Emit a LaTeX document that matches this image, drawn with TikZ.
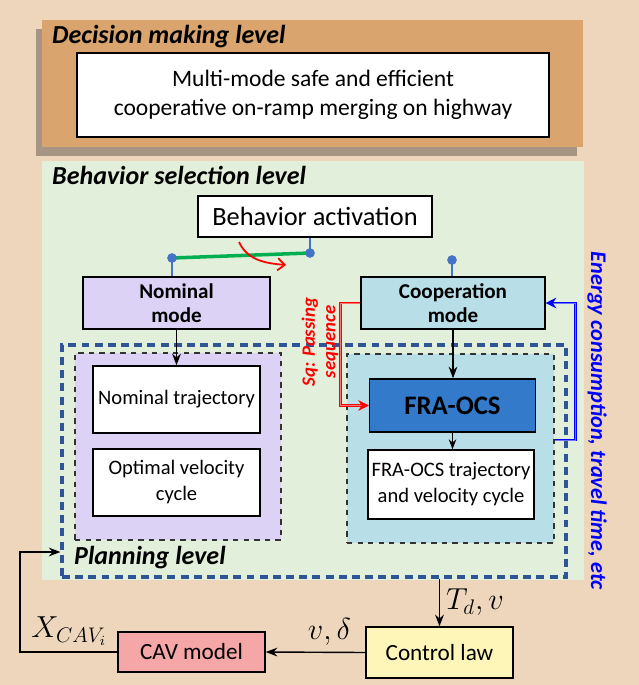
\documentclass[tikz,border=0pt]{standalone}
\usepackage{fontspec}
\setmainfont{Carlito}
\usetikzlibrary{arrows.meta,shadows}
\definecolor{bgtan}{RGB}{238,214,188}
\definecolor{decor}{RGB}{217,164,110}
\definecolor{selgreen}{RGB}{226,239,218}
\definecolor{nompurple}{RGB}{220,210,246}
\definecolor{coopblue}{RGB}{184,222,232}
\definecolor{frablue}{RGB}{52,122,202}
\definecolor{planblue}{RGB}{47,85,151}
\definecolor{pinblue}{RGB}{68,114,196}
\definecolor{swgreen}{RGB}{0,176,80}
\definecolor{cavpink}{RGB}{245,166,166}
\definecolor{ctrlyellow}{RGB}{253,246,184}
\begin{document}
\begin{tikzpicture}[>=Stealth,
    box/.style={draw, line width=0.8pt, align=center, inner sep=2pt},
    lvl/.style={anchor=west, font=\fontsize{14.8}{17}\selectfont\bfseries\itshape},
    dashbox/.style={draw=black!80, dashed, line width=0.7pt},
    dot/.style={circle, fill=pinblue, inner sep=0pt, minimum size=5.5pt},
    pin/.style={draw=pinblue, line width=1.5pt},
    flow/.style={->, line width=0.8pt}]
  \useasboundingbox (0,0) rectangle (12.78,-13.7);
  \fill[bgtan] (0,0) rectangle (12.78,-13.7);
  \path[fill=decor, drop shadow={shadow xshift=-0.12cm, shadow yshift=-0.18cm, fill=black, opacity=0.3}]
       (0.84,-0.4) rectangle (11.66,-2.94);
  \node[lvl] (dml) at (0.92,-0.74) {Decision making level};
  \node[box, fill=white, line width=1pt, minimum width=9.44cm, minimum height=1.68cm,
        font=\fontsize{13.4}{16.5}\selectfont] (goal) at (6.26,-1.9)
        {Multi-mode safe and efficient\\cooperative on-ramp merging on highway};
  \fill[selgreen] (0.84,-3.22) rectangle (11.68,-11.6);
  \node[lvl] (bsl) at (0.92,-3.5) {Behavior selection level};
  \node[box, fill=white, minimum width=4.68cm, minimum height=0.82cm,
        font=\fontsize{15}{17}\selectfont] (act) at (6.3,-4.33) {Behavior activation};
  \node[box, fill=nompurple, minimum width=3.74cm, minimum height=1.04cm,
        font=\fontsize{12}{13.7}\selectfont\bfseries] (nom) at (3.53,-6.06) {Nominal\\mode};
  \node[box, fill=coopblue, minimum width=3.68cm, minimum height=1.04cm,
        font=\fontsize{12}{13.7}\selectfont\bfseries] (coop) at (9.06,-6.06) {Cooperation\\mode};
  \node[draw=planblue, line width=1.8pt, dash pattern=on 4.5pt off 3pt,
        minimum width=10.08cm, minimum height=4.64cm] (plan) at (6.28,-9.22) {};
  \node[dashbox, fill=nompurple, minimum width=4.12cm, minimum height=3.74cm] (lbox) at (3.56,-8.93) {};
  \node[dashbox, fill=coopblue, minimum width=4.14cm, minimum height=3.78cm] (rbox) at (9.01,-8.97) {};
  \node[lvl] (pll) at (1.36,-11.16) {Planning level};
  \node[box, fill=white, minimum width=3.34cm, minimum height=1.34cm,
        font=\fontsize{11.7}{14.8}\selectfont] (ntraj) at (3.53,-7.99) {Nominal trajectory};
  \node[box, fill=white, minimum width=3.34cm, minimum height=1.34cm,
        font=\fontsize{11.7}{14.8}\selectfont] (optv) at (3.53,-9.65) {Optimal velocity\\cycle};
  \node[box, fill=frablue, minimum width=3.32cm, minimum height=1.06cm,
        font=\fontsize{15.2}{17}\selectfont\bfseries] (fra) at (9.05,-8.11) {FRA-OCS};
  \node[box, fill=white, minimum width=3.32cm, minimum height=1.38cm,
        font=\fontsize{11.7}{14.8}\selectfont] (ftraj) at (9.02,-9.69) {FRA-OCS trajectory\\and velocity cycle};
  \coordinate (swr) at (6.2,-5.06);
  \coordinate (swl) at (3.44,-5.16);
  \coordinate (swc) at (9.04,-5.2);
  \draw[pin] (act.south -| swr) -- (swr);
  \draw[pin] (swl) -- (swl |- nom.north);
  \draw[pin] (swc) -- (swc |- coop.north);
  \draw[draw=swgreen, line width=2pt] (swl) -- (swr);
  \node[dot] (dr) at (swr) {};
  \node[dot] (dl) at (swl) {};
  \node[dot] (dc) at (swc) {};
  \coordinate (rs) at (4.78,-4.84);
  \coordinate (re) at (5.72,-5.3);
  \draw[red, line width=1pt, -{Straight Barb[length=4pt,width=7pt]}] (rs) to[out=-65, in=175] (re);
  \draw[flow] (nom.south) -- (ntraj.north);
  \draw[flow] (coop.south) -- (coop.south |- fra.north);
  \draw[->, line width=0.6pt] (fra.south) -- (fra.south |- ftraj.north);
  \draw[red, line width=0.5pt, double=red!55, double distance=0.5pt, -{Stealth[red, length=6pt, width=6pt]}]
        (coop.west) -- ++(-0.4,0) |- (fra.west);
  \draw[blue, line width=0.5pt, double=blue!55, double distance=0.5pt, -{Stealth[blue, length=6pt, width=6pt]}]
        ([yshift=0.17cm]rbox.east) -- ++(0.42,0) |- (coop.east);
  \node[rotate=90, text=red, align=center, font=\fontsize{10.7}{11.6}\selectfont\bfseries\itshape]
        (sq) at (6.4,-6.84) {Sq: Passing\\sequence};
  \node[rotate=-90, text=blue, font=\fontsize{12.7}{14}\selectfont\bfseries\itshape]
        (energy) at (11.94,-8.42) {Energy consumption, travel time, etc};
  \node[box, fill=cavpink, minimum width=2.94cm, minimum height=0.8cm,
        font=\fontsize{13.2}{15}\selectfont] (cav) at (3.83,-13.04) {CAV model};
  \node[box, fill=ctrlyellow, minimum width=2.94cm, minimum height=1.02cm,
        font=\fontsize{13.2}{15}\selectfont] (ctrl) at (8.79,-13.05) {Control law};
  \draw[flow] (plan.south -| ctrl.north) -- (ctrl.north)
        node (tdv) [pos=.5, right, font=\fontsize{16.5}{18}\selectfont] {$T_d, v$};
  \draw[flow] (ctrl.west) -- (cav.east)
        node (vdel) [pos=.36, above, font=\fontsize{16.5}{18}\selectfont] {$v, \delta$};
  \coordinate (fb) at (0.4,-11.04);
  \draw[flow] (cav.west) -| (fb) -- (fb -| plan.west);
  \node[font=\fontsize{16.5}{18}\selectfont] (xcav) at (1.38,-12.62) {$X_{CAV_i}$};
\end{tikzpicture}
\end{document}
